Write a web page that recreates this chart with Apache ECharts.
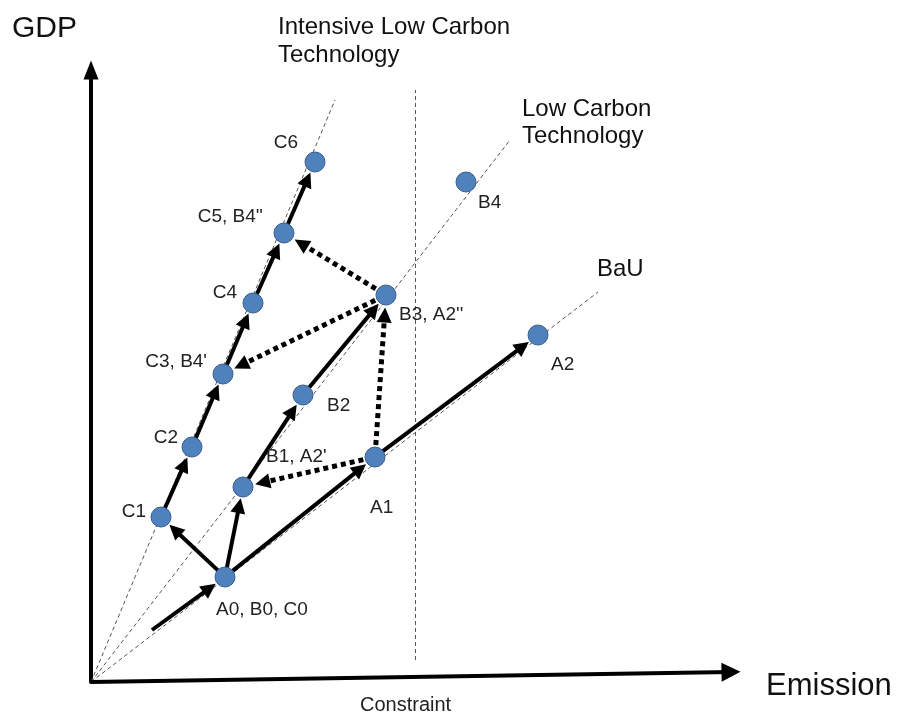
<!DOCTYPE html>
<html>
<head>
<meta charset="utf-8">
<script src="https://cdn.jsdelivr.net/npm/echarts@6/dist/echarts.min.js"></script>
<style>html,body{margin:0;padding:0;background:#fff}#c{width:898px;height:716px}</style>
</head>
<body>
<div id="c"></div>
<script>
// ---- data (emission, GDP in arbitrary conceptual units) ----
const pointNames = ['A0','A1','A2','B1','B2','B3','B4','C1','C2','C3','C4','C5','C6'];
const pointLabels = ['A0, B0, C0','A1','A2',"B1, A2'",'B2',"B3, A2''",'B4','C1','C2',"C3, B4'",'C4',"C5, B4''",'C6'];
const emission = [134, 284, 447, 152, 212, 295, 375, 70, 101, 132, 162, 193, 224];
const gdp      = [105, 225, 347, 195, 287, 387, 500, 165, 235, 308, 379, 449, 520];
const startEmission = 61, startGdp = 52;
const solidArrows = [['S','A0'],['A0','C1'],['A0','B1'],['A0','A1'],['A1','A2'],['B1','B2'],['B2','B3'],
                     ['C1','C2'],['C2','C3'],['C3','C4'],['C4','C5'],['C5','C6']];
const dottedArrows = [['A1','B1'],['A1','B3'],['B3','C3'],['B3','C5']];
const rayNames = ['Intensive Low Carbon\nTechnology','Low Carbon\nTechnology','BaU'];
const rayEndEmission = [244, 419, 507];
const rayEndGdp = [582, 542, 390];
const constraintEmission = 324;
const constraintGdpRange = [22, 592];
const xAxisEnd = [640, 10];
const axisMax = [649, 612];

// ---- styles / layout ----
// [dx, dy, align] relative to point centre
const labelPlace = {
  A0:[-9,33,'left'], A1:[-5,51,'left'], A2:[13,30,'left'], B1:[23,-30,'left'], B2:[24,11,'left'],
  B3:[13,20,'left'], B4:[12,21,'left'],
  C1:[-15,-5,'right'], C2:[-14,-9,'right'], C3:[-16,-12,'right'], C4:[-16,-10,'right'],
  C5:[-21,-16,'right'], C6:[-17,-19,'right']
};
const pos = {S:[startEmission,startGdp]};
pointNames.forEach((n,i)=>pos[n]=[emission[i],gdp[i]]);

function shorten(a,b,g1,g2){
  const p=pos[a], q=pos[b];
  const dx=q[0]-p[0], dy=q[1]-p[1], L=Math.hypot(dx,dy);
  const ux=dx/L, uy=dy/L;
  return [[p[0]+ux*g1,p[1]+uy*g1],[q[0]-ux*g2,q[1]-uy*g2]];
}
const solidData = solidArrows.map(([a,b])=>({coords: shorten(a,b,a==='S'?0:9,19)}));
const dottedData = dottedArrows.map(([a,b])=>({coords: shorten(a,b,12,20)}));
const rayData = rayEndEmission.map((x,i)=>({coords:[[0,0],[x,rayEndGdp[i]]]}));
rayData.push({coords:[[constraintEmission,constraintGdpRange[0]],[constraintEmission,constraintGdpRange[1]]]});

const font = 'Liberation Sans, Arial, sans-serif';
const chart = echarts.init(document.getElementById('c'));
chart.setOption({
  animation:false,
  grid:{left:91, top:70, right:158, bottom:34},
  xAxis:{type:'value', min:0, max:axisMax[0], axisLabel:{show:false}, axisTick:{show:false}, splitLine:{show:false},
    axisLine:{show:false}},
  yAxis:{type:'value', min:0, max:axisMax[1], axisLabel:{show:false}, axisTick:{show:false}, splitLine:{show:false},
    axisLine:{onZero:false, lineStyle:{color:'#000', width:4}, symbol:['none','triangle'], symbolSize:[15,19]}},
  graphic:[
    {type:'text', left:12, top:14, style:{text:'GDP', font:'30px '+font, fill:'#111'}},
    {type:'text', left:766, top:671, style:{text:'Emission', font:'31px '+font, fill:'#111'}},
    {type:'text', left:360, top:695, style:{text:'Constraint', font:'20px '+font, fill:'#222'}},
    {type:'text', left:278, top:13, style:{text:rayNames[0], font:'24px '+font, fill:'#111', lineHeight:28}},
    {type:'text', left:522, top:96, style:{text:rayNames[1], font:'24px '+font, fill:'#111', lineHeight:27}},
    {type:'text', left:597, top:257, style:{text:rayNames[2], font:'24px '+font, fill:'#111'}}
  ],
  series:[
    {type:'lines', coordinateSystem:'cartesian2d', silent:true, symbol:'none', clip:false,
      lineStyle:{color:'#555', width:1, type:[4,3], opacity:1}, data:rayData, z:1},
    {type:'lines', coordinateSystem:'cartesian2d', silent:true, symbol:['none','triangle'], symbolSize:[15,19], clip:false,
      lineStyle:{color:'#000', width:4, opacity:1}, data:[{coords:[[0,0],xAxisEnd]}], z:2},
    {type:'lines', coordinateSystem:'cartesian2d', silent:true, symbol:['none','triangle'], symbolSize:[13,15],
      lineStyle:{color:'#000', width:4, opacity:1}, data:solidData, z:3},
    {type:'lines', coordinateSystem:'cartesian2d', silent:true, symbol:['none','triangle'], symbolSize:[13,15],
      lineStyle:{color:'#000', width:5, type:[5,4], opacity:1}, data:dottedData, z:3},
    {type:'scatter', symbolSize:20, z:4,
      itemStyle:{color:'#4F81BD', borderColor:'#385D8A', borderWidth:1, opacity:1},
      label:{show:true, position:'inside', verticalAlign:'middle', color:'#222', fontSize:19, fontFamily:font,
        formatter:p=>pointLabels[p.dataIndex]},
      data:pointNames.map((n,i)=>({value:[emission[i],gdp[i]],
        label:{offset:[labelPlace[n][0],labelPlace[n][1]], align:labelPlace[n][2]}}))}
  ]
});
</script>
</body>
</html>
